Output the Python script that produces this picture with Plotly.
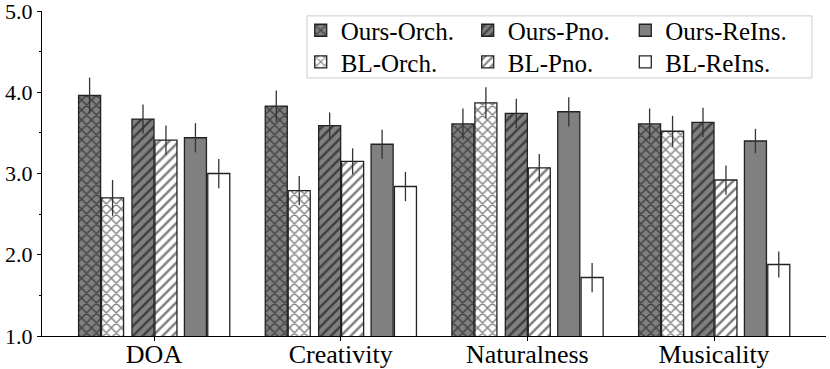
import plotly.graph_objects as go

# categories on x
categories = ["DOA", "Creativity", "Naturalness", "Musicality"]

# mean scores per system
ours_orch = [3.96, 3.83, 3.61, 3.61]
bl_orch = [2.70, 2.79, 3.87, 3.52]
ours_pno = [3.67, 3.59, 3.74, 3.63]
bl_pno = [3.41, 3.15, 3.07, 2.92]
ours_reins = [3.44, 3.36, 3.76, 3.40]
bl_reins = [3.00, 2.84, 1.72, 1.88]

# error bar half-lengths
ours_orch_err = [0.22, 0.19, 0.19, 0.19]
bl_orch_err = [0.22, 0.18, 0.19, 0.19]
ours_pno_err = [0.18, 0.16, 0.18, 0.18]
bl_pno_err = [0.18, 0.16, 0.17, 0.18]
ours_reins_err = [0.18, 0.18, 0.18, 0.15]
bl_reins_err = [0.18, 0.18, 0.18, 0.16]

FONT = "Liberation Serif"
GRAY = "#808080"
EDGE = "#222222"
W = 0.118

#name, values, errors, fill, hatch, bar-center offset, legend id
series = [
    ("Ours-Orch.", ours_orch, ours_orch_err, GRAY, "x", -0.345, "legend"),
    ("BL-Orch.", bl_orch, bl_orch_err, "white", "x", -0.222, "legend4"),
    ("Ours-Pno.", ours_pno, ours_pno_err, GRAY, "/", -0.059, "legend2"),
    ("BL-Pno.", bl_pno, bl_pno_err, "white", "/", 0.064, "legend5"),
    ("Ours-ReIns.", ours_reins, ours_reins_err, GRAY, "", 0.222, "legend3"),
    ("BL-ReIns.", bl_reins, bl_reins_err, "white", "", 0.347, "legend6"),
]

fig = go.Figure()

for name, vals, errs, fill, hatch, off, leg in series:
    fig.add_trace(go.Bar(
        x=categories,
        y=vals,
        name=name,
        width=W,
        offset=off - W / 2,
        showlegend=True,
        marker=dict(
            color=fill,
            line=dict(color=EDGE, width=1.3),
            pattern=dict(shape=hatch, fgcolor="black", size=7, solidity=0.36),
        ),
        error_y=dict(type="data", array=errs, color="#333333", thickness=1.3, width=0),
        legend=leg,
    ))

#one single-item legend per cell so the 3x2 grid matches
def leg(x, y):
    return dict(
        x=x, y=y,
        xanchor="left", yanchor="middle",
        font=dict(family=FONT, size=25, color="black"),
        bgcolor="rgba(0,0,0,0)",
        borderwidth=0,
        itemwidth=30,
    )

col_x = [0.330, 0.543, 0.744]
row_y = [0.940, 0.843]

fig.update_layout(
    width=830,
    height=369,
    margin=dict(l=42, r=4, t=11, b=33, autoexpand=False),
    plot_bgcolor="white",
    paper_bgcolor="white",
    barmode="overlay",
    showlegend=True,
    font=dict(family=FONT, size=24, color="black"),
    legend=leg(col_x[0], row_y[0]),
    legend2=leg(col_x[1], row_y[0]),
    legend3=leg(col_x[2], row_y[0]),
    legend4=leg(col_x[0], row_y[1]),
    legend5=leg(col_x[1], row_y[1]),
    legend6=leg(col_x[2], row_y[1]),
    shapes=[dict(
        type="rect", xref="paper", yref="paper",
        x0=0.338, x1=0.982, y0=0.794, y1=0.985,
        line=dict(color="#cccccc", width=1),
        fillcolor="white", layer="below",
    )],
)

fig.update_xaxes(
    type="category",
    range=[-0.6, 3.6],
    automargin=False,
    showline=True, linecolor="black", linewidth=1.2,
    ticks="outside", ticklen=4, tickcolor="black",
    ticklabelstandoff=-9,
    tickfont=dict(family=FONT, size=26),
    showgrid=False, zeroline=False,
)

fig.update_yaxes(
    range=[1, 5],
    dtick=1,
    tickformat=".1f",
    automargin=False,
    ticklabeloverflow="allow",
    showline=True, linecolor="black", linewidth=1.2,
    ticks="outside", ticklen=4, tickcolor="black",
    minor=dict(dtick=0.5, ticks="outside", ticklen=2, tickcolor="black"),
    tickfont=dict(family=FONT, size=22),
    showgrid=False, zeroline=False,
)

#drop the default 8px page margin so the figure sits at the window origin
fig.write_html("out.html", config={"displayModeBar": False},
               post_script="document.body.style.margin='0';")
